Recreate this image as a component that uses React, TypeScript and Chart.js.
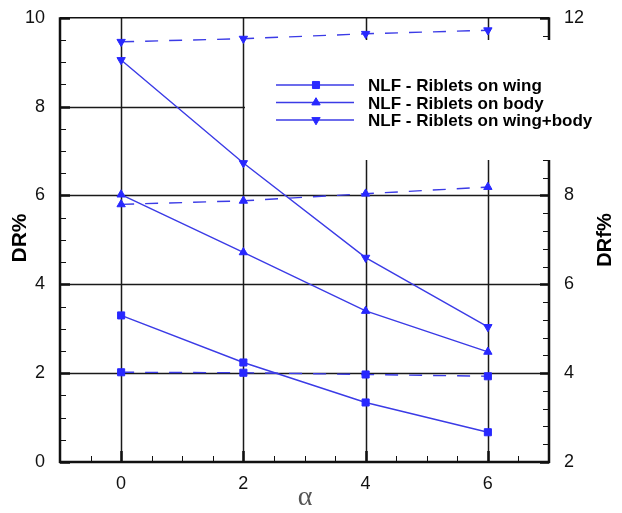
import React, { useEffect, useRef } from 'react';
import { Chart, registerables } from 'chart.js';
import { drawPoint } from 'chart.js/helpers';

Chart.register(...registerables);

// ---- data ----
const alphaValues = [0, 2, 4, 6];
const drWing = [3.30, 2.24, 1.34, 0.67];
const drBody = [6.02, 4.72, 3.40, 2.48];
const drWingBody = [9.05, 6.73, 4.60, 3.04];
const drfWing = [4.02, 4.01, 3.97, 3.93];
const drfBody = [7.80, 7.88, 8.04, 8.19];
const drfWingBody = [11.46, 11.53, 11.64, 11.72];
const seriesLabels = ['NLF - Riblets on wing', 'NLF - Riblets on body', 'NLF - Riblets on wing+body'];
const xTicks = [0, 2, 4, 6];
const leftTicks = [0, 2, 4, 6, 8, 10];
const rightTicks = [2, 4, 6, 8, 10, 12];
const gridY = [2, 4, 6, 8];

const LINE = '#3b3be6';
const MARK = '#2828ff';
const markers = [
  { pointStyle: 'rect', rotation: 0, radius: 5 },
  { pointStyle: 'triangle', rotation: 0, radius: 4.8 },
  { pointStyle: 'triangle', rotation: 180, radius: 4.8 },
];

const pts = (ys: number[]) => alphaValues.map((x, i) => ({ x, y: ys[i] }));

const mkDs = (label: string, ys: number[], idx: number, dashed: boolean) => ({
  label,
  data: pts(ys),
  yAxisID: dashed ? 'y1' : 'y',
  borderColor: LINE,
  borderWidth: 1.4,
  borderDash: dashed ? [13, 11] : [],
  backgroundColor: MARK,
  pointStyle: markers[idx].pointStyle,
  pointRotation: markers[idx].rotation,
  pointRadius: markers[idx].radius,
  pointBackgroundColor: MARK,
  pointBorderColor: MARK,
  pointBorderWidth: 1,
  tension: 0,
  fill: false,
  showInLegend: !dashed,
});

const framePlugin = {
  id: 'frame',
  beforeDatasetsDraw(chart: any) {
    const { ctx, chartArea: ca, scales } = chart;
    const x = scales.x, y = scales.y, y1 = scales.y1;
    ctx.save();
    // grid
    ctx.strokeStyle = '#1a1a1a';
    ctx.lineWidth = 1.5;
    ctx.beginPath();
    xTicks.forEach((v) => {
      const px = Math.round(x.getPixelForValue(v)) + 0.5;
      ctx.moveTo(px, ca.top);
      ctx.lineTo(px, ca.bottom);
    });
    gridY.forEach((v) => {
      const py = Math.round(y.getPixelForValue(v)) + 0.5;
      ctx.moveTo(ca.left, py);
      ctx.lineTo(ca.right, py);
    });
    ctx.stroke();

    const seg = (x1: number, y1_: number, x2: number, y2: number, w: number) => {
      ctx.lineWidth = w;
      ctx.beginPath();
      ctx.moveTo(x1, y1_);
      ctx.lineTo(x2, y2);
      ctx.stroke();
    };
    ctx.strokeStyle = '#111';
    // bottom ticks
    for (let v = x.min + 0.5; v < x.max; v += 0.5) {
      const major = xTicks.includes(v);
      const px = Math.round(x.getPixelForValue(v)) + 0.5;
      seg(px, ca.bottom, px, ca.bottom - (major ? 11 : 6), major ? 2.5 : 1);
    }
    // left ticks
    for (let v = y.min; v <= y.max + 1e-9; v += 0.5) {
      const major = leftTicks.includes(v);
      const py = Math.round(y.getPixelForValue(v)) + 0.5;
      seg(ca.left, py, ca.left + (major ? 10 : 6), py, major ? 2.5 : 1);
    }
    // right ticks
    for (let k = 0; k <= 25; k++) {
      const v = y1.min + k * 0.4;
      if (v > y1.max + 1e-9) break;
      const major = Math.abs(v / 2 - Math.round(v / 2)) < 1e-6;
      const py = Math.round(y1.getPixelForValue(v)) + 0.5;
      seg(ca.right, py, ca.right - (major ? 9 : 6), py, major ? 2.5 : 1);
    }
    // borders
    seg(ca.left, ca.top, ca.right, ca.top, 1.5);
    seg(ca.left, ca.top - 0.5, ca.left, ca.bottom + 1, 2.5);
    seg(ca.left - 1, ca.bottom, ca.right + 1, ca.bottom, 2.5);
    seg(ca.right, ca.top - 0.5, ca.right, ca.bottom + 1, 2.5);

    // legend box (opaque)
    ctx.fillStyle = '#ffffff';
    ctx.fillRect(245, 40, 362, 120);
    const rows = [85, 102.5, 120];
    const legendDs = chart.data.datasets.filter((d: any) => d.showInLegend);
    legendDs.forEach((d: any, i: number) => {
      const ry = rows[i];
      ctx.strokeStyle = d.borderColor;
      ctx.lineWidth = 1.4;
      ctx.setLineDash([]);
      ctx.beginPath();
      ctx.moveTo(276, ry);
      ctx.lineTo(354, ry);
      ctx.stroke();
      ctx.fillStyle = d.pointBackgroundColor;
      ctx.strokeStyle = d.pointBorderColor;
      ctx.lineWidth = 1;
      drawPoint(ctx, { pointStyle: d.pointStyle, radius: d.pointRadius, rotation: d.pointRotation, borderWidth: 1 } as any, 316, ry);
      ctx.fillStyle = '#000';
      ctx.font = 'bold 17px "Liberation Sans", Arial, sans-serif';
      ctx.textAlign = 'left';
      ctx.textBaseline = 'alphabetic';
      ctx.fillText(d.label, 368, ry + 6);
    });
    ctx.restore();
  },
  afterDraw(chart: any) {
    const { ctx } = chart;
    ctx.save();
    ctx.fillStyle = '#000';
    ctx.textAlign = 'center';
    ctx.textBaseline = 'middle';
    ctx.font = 'bold 21px "Liberation Sans", Arial, sans-serif';
    ctx.translate(20, 238);
    ctx.rotate(-Math.PI / 2);
    ctx.fillText('DR%', 0, 0);
    ctx.restore();

    ctx.save();
    ctx.fillStyle = '#000';
    ctx.textAlign = 'center';
    ctx.textBaseline = 'middle';
    ctx.font = 'bold 20px "Liberation Sans", Arial, sans-serif';
    ctx.translate(605, 240);
    ctx.rotate(-Math.PI / 2);
    ctx.fillText('DRf%', 0, 0);
    ctx.restore();

    ctx.save();
    ctx.fillStyle = '#555';
    ctx.textAlign = 'center';
    ctx.textBaseline = 'alphabetic';
    ctx.font = '28px "Liberation Serif", serif';
    ctx.fillText('α', 305, 505);
    ctx.restore();
  },
};

const tickFont = { family: '"Liberation Sans", Arial, sans-serif', size: 18 };

export default function App() {
  const ref = useRef<HTMLCanvasElement | null>(null);
  useEffect(() => {
    if (!ref.current) return;
    const chart = new Chart(ref.current, {
      type: 'line',
      data: {
        datasets: [
          mkDs(seriesLabels[0], drWing, 0, false),
          mkDs(seriesLabels[1], drBody, 1, false),
          mkDs(seriesLabels[2], drWingBody, 2, false),
          mkDs(seriesLabels[0] + ' (DRf)', drfWing, 0, true),
          mkDs(seriesLabels[1] + ' (DRf)', drfBody, 1, true),
          mkDs(seriesLabels[2] + ' (DRf)', drfWingBody, 2, true),
        ] as any,
      },
      options: {
        responsive: false,
        animation: false,
        layout: { padding: { top: 15, left: 0, right: 0, bottom: 0 } },
        plugins: { legend: { display: false }, tooltip: { enabled: false } },
        scales: {
          x: {
            type: 'linear',
            position: 'bottom',
            min: -1,
            max: 7,
            grid: { display: false },
            border: { display: false },
            ticks: { font: tickFont, color: '#111', padding: 3 },
            afterBuildTicks: (s: any) => { s.ticks = xTicks.map((v) => ({ value: v })); },
            afterFit: (s: any) => { s.height = 51; },
          },
          y: {
            type: 'linear',
            position: 'left',
            min: 0,
            max: 10,
            grid: { display: false },
            border: { display: false },
            ticks: { font: tickFont, color: '#111', padding: 7 },
            afterBuildTicks: (s: any) => { s.ticks = leftTicks.map((v) => ({ value: v })); },
            afterFit: (s: any) => { s.width = 60; },
          },
          y1: {
            type: 'linear',
            position: 'right',
            min: 2,
            max: 12,
            grid: { display: false },
            border: { display: false },
            ticks: { font: tickFont, color: '#111', padding: 7 },
            afterBuildTicks: (s: any) => { s.ticks = rightTicks.map((v) => ({ value: v })); },
            afterFit: (s: any) => { s.width = 73; },
          },
        },
      } as any,
      plugins: [framePlugin],
    });
    return () => chart.destroy();
  }, []);
  return (
    <canvas
      ref={ref}
      width={622}
      height={513}
      style={{ position: 'absolute', left: 0, top: 0, display: 'block', background: '#fff' }}
    />
  );
}
